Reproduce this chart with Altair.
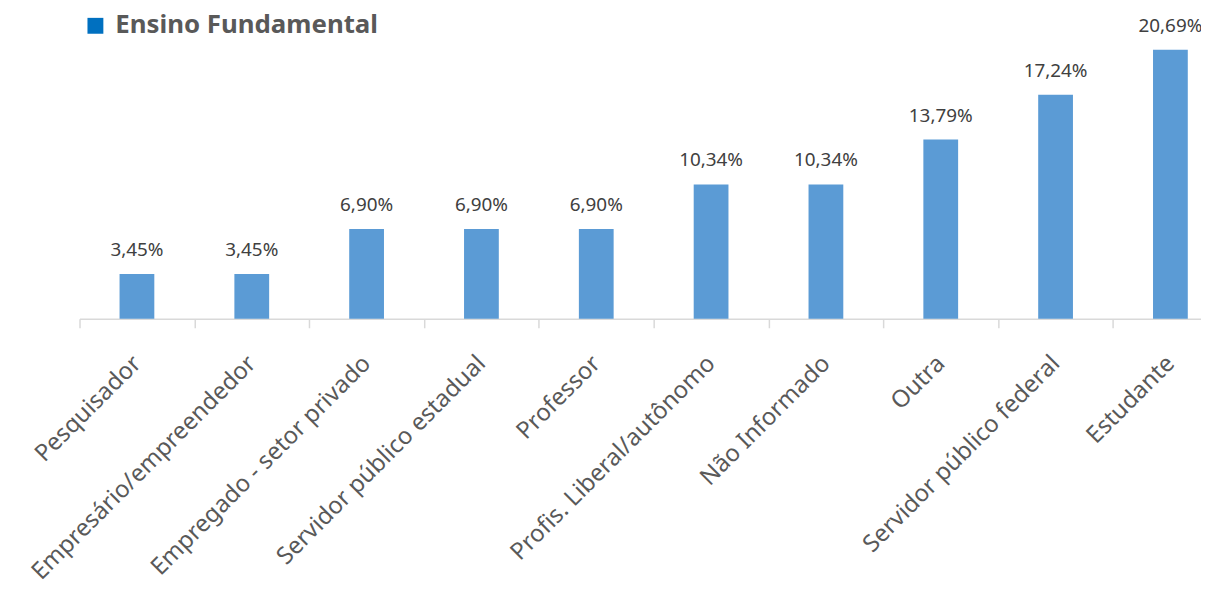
import altair as alt
import pandas as pd

categories = ["Pesquisador", "Empresário/empreendedor", "Empregado - setor privado",
              "Servidor público estadual", "Professor", "Profis. Liberal/autônomo",
              "Não Informado", "Outra", "Servidor público federal", "Estudante"]
values = [3.45, 3.45, 6.90, 6.90, 6.90, 10.34, 10.34, 13.79, 17.24, 20.69]
series_name = "Ensino Fundamental"

df = pd.DataFrame({
    "cat": categories,
    "val": values,
    "label": [f"{v:.2f}".replace(".", ",") + "%" for v in values],
})

FONT = "Noto Sans"
BAND_TOTAL = 1156

x = alt.X("cat:N", sort=None, title=None,
          scale=alt.Scale(range=[0, BAND_TOTAL], paddingInner=0, paddingOuter=0, round=False),
          axis=alt.Axis(labelAngle=-45, labelFontSize=24, labelColor="#595959",
                        labelFont=FONT, labelPadding=32, labelAlign="right",
                        labelBaseline="middle", tickSize=9, tickWidth=1.5,
                        tickColor="#D9D9D9", domainColor="#D9D9D9", domainWidth=1.5,
                        tickBand="extent", labelLimit=400))
y = alt.Y("val:Q", title=None, scale=alt.Scale(domain=[0, 22]), axis=None)

base = alt.Chart(df)
bars = base.mark_bar(color="#5B9BD5", size=35).encode(x=x, y=y)
labels = base.mark_text(baseline="bottom", dy=-14, fontSize=19, font=FONT,
                        color="#404040").encode(x=x, y=y, text="label:N")

legend_df = pd.DataFrame({"name": [series_name]})
leg_sq = alt.Chart(legend_df).mark_square(color="#0070C0", size=256, opacity=1).encode(
    x=alt.value(16), y=alt.value(-7))
leg_tx = alt.Chart(legend_df).mark_text(align="left", baseline="middle", fontSize=26,
                                         fontWeight="bold", font=FONT,
                                         color="#595959").encode(
    x=alt.value(36), y=alt.value(-8), text="name:N")

chart = alt.layer(bars, labels, leg_sq, leg_tx).properties(
    width=1129, height=288,
    autosize=alt.AutoSizeParams(type="none"),
    padding={"left": 72, "top": 23, "right": 0, "bottom": 262},
).configure_view(stroke=None)

chart.save("out.html", embed_options={"renderer": "svg", "actions": False})
